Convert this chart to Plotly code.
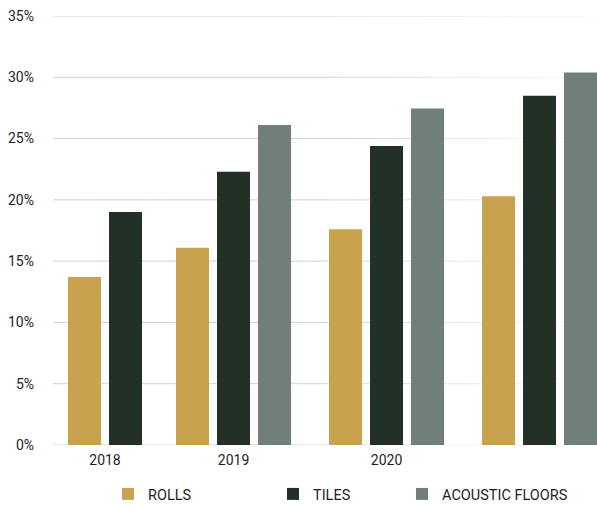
import plotly.graph_objects as go

# ---- data ----
categories = ["2018", "2019", "2020", ""]
series_names = ["ROLLS", "TILES", "ACOUSTIC FLOORS"]
rolls = [13.7, 16.1, 17.6, 20.3]
tiles = [19.0, 22.3, 24.4, 28.5]
acoustic = [None, 26.1, 27.45, 30.4]
y_ticks = [0, 5, 10, 15, 20, 25, 30, 35]

# ---- layout / style constants ----
colors = ["#C8A24E", "#223027", "#707F77"]
group_centers = [0.0, 0.84, 1.84, 2.84]
BAR_W = 33 / 153
STEP = 41 / 153
FONT = "Roboto"
TXT = "#1e1e1e"

all_series = [rolls, tiles, acoustic]

# offsets: bars in each group are centred on the group position,
# counting only the series that have a value in that group
offsets = [[0.0] * len(categories) for _ in all_series]
for g in range(len(categories)):
    present = [s for s in range(len(all_series)) if all_series[s][g] is not None]
    n = len(present)
    for k, s in enumerate(present):
        offsets[s][g] = (k - (n - 1) / 2) * STEP - BAR_W / 2

fig = go.Figure()
legend_ids = ["legend", "legend2", "legend3"]
for s, (name, vals) in enumerate(zip(series_names, all_series)):
    fig.add_trace(go.Bar(
        x=group_centers,
        y=vals,
        name=name,
        width=BAR_W,
        offset=offsets[s],
        marker=dict(color=colors[s], line=dict(width=0)),
        legend=legend_ids[s],
        hoverinfo="skip",
    ))

# fading grid lines
def grid_color(t):
    start, end = (204, 209, 207), (250, 250, 250)
    if t < 0.45:
        c = start
    else:
        f = (t - 0.45) / 0.55
        c = tuple(round(a + (b - a) * f) for a, b in zip(start, end))
    return "rgb(%d,%d,%d)" % c

shapes = []
N = 40
for v in y_ticks:
    for i in range(N):
        t0, t1 = i / N, (i + 1) / N
        shapes.append(dict(
            type="line", xref="paper", yref="y",
            x0=t0, x1=t1, y0=v, y1=v,
            line=dict(color=grid_color((t0 + t1) / 2), width=1),
            layer="below",
        ))

leg_common = dict(orientation="h", yanchor="middle", y=1 - 494 / 505,
                  xref="container", yref="container",
                  xanchor="left", bgcolor="rgba(0,0,0,0)",
                  font=dict(family=FONT, size=14.5, color=TXT),
                  itemclick=False, itemdoubleclick=False)

fig.update_layout(
    width=597, height=505,
    margin=dict(l=53, r=0, t=16, b=60, autoexpand=False),
    paper_bgcolor="white", plot_bgcolor="white",
    font=dict(family=FONT, size=14, color=TXT),
    barmode="overlay",
    shapes=shapes,
    showlegend=True,
    legend=dict(x=108 / 597, **leg_common),
    legend2=dict(x=273 / 597, **leg_common),
    legend3=dict(x=402 / 597, **leg_common),
    xaxis=dict(
        range=[(53 - 105) / 153, (597 - 105) / 153],
        tickvals=group_centers, ticktext=categories,
        showgrid=False, zeroline=False, showline=False, automargin=False,
        ticks="", ticklabelstandoff=5,
        tickfont=dict(family=FONT, size=14, color=TXT),
    ),
    yaxis=dict(
        range=[0, 35], tickvals=y_ticks,
        ticktext=["%d%%" % v for v in y_ticks],
        showgrid=False, zeroline=False, showline=False, automargin=False,
        ticks="", ticklabelstandoff=18,
        tickfont=dict(family=FONT, size=14, color=TXT),
    ),
)

fig.write_html(
    "out.html",
    config={"displayModeBar": False},
    post_script="document.body.style.margin='0';document.body.style.padding='0';"
                "document.body.style.overflow='hidden';",
)
